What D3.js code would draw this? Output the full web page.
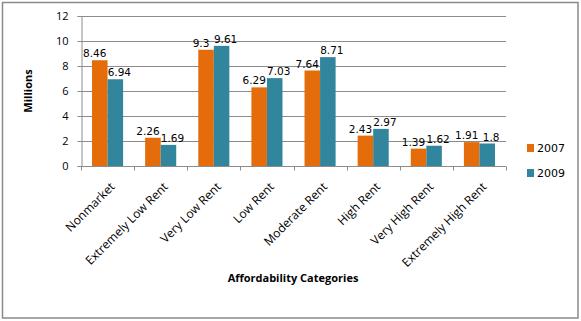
<!DOCTYPE html>
<html>
<head>
<meta charset="utf-8">
<script src="https://cdn.jsdelivr.net/npm/d3@7"></script>
<style>
  body { margin: 0; background: #fff; }
  svg text { font-family: "DejaVu Sans", Verdana, sans-serif; }
</style>
</head>
<body>
<div id="chart"></div>
<script>
const categories = ['Nonmarket', 'Extremely Low Rent', 'Very Low Rent', 'Low Rent',
  'Moderate Rent', 'High Rent', 'Very High Rent', 'Extremely High Rent'];
const years = ['2007', '2009'];
const values2007 = [8.46, 2.26, 9.3, 6.29, 7.64, 2.43, 1.39, 1.91];
const values2009 = [6.94, 1.69, 9.61, 7.03, 8.71, 2.97, 1.62, 1.8];
const yTicks = [0, 2, 4, 6, 8, 10, 12];
const colors = ['#E46C0A', '#31859C'];
const labelShift = [-5, 4];

const width = 581, height = 321;
const plotLeft = 81, plotRight = 506, plotTop = 16, plotBottom = 166;

const svg = d3.select('#chart').append('svg')
  .attr('width', width).attr('height', height);

// outer frame
svg.append('rect')
  .attr('x', 2.5).attr('y', 2.5).attr('width', 575.5).attr('height', 315.5)
  .attr('fill', '#fff').attr('stroke', '#8a8a8a').attr('stroke-width', 1.5);

const y = d3.scaleLinear().domain([0, 12]).range([plotBottom, plotTop]);
const x0 = d3.scaleBand().domain(categories).range([plotLeft, plotRight]);
const x1 = d3.scaleBand().domain(years).range([0, x0.bandwidth()]).paddingOuter(0.71);

// grid lines
svg.append('g').selectAll('line')
  .data(yTicks.filter(d => d > 0))
  .join('line')
  .attr('x1', plotLeft).attr('x2', plotRight)
  .attr('y1', d => Math.round(y(d)) + 0.5).attr('y2', d => Math.round(y(d)) + 0.5)
  .attr('stroke', '#8c8c8c');

// y axis
const yAxis = svg.append('g')
  .attr('transform', `translate(${plotLeft + 0.5},0)`)
  .call(d3.axisLeft(y).tickValues(yTicks).tickSize(4).tickPadding(9).tickFormat(d3.format('d')));
yAxis.select('.domain').attr('stroke', '#8c8c8c');
yAxis.selectAll('.tick line').attr('stroke', '#8c8c8c');
yAxis.selectAll('.tick text')
  .attr('font-size', 11).attr('fill', '#000')
  .style('font-family', '"Open Sans", sans-serif');

// x axis with category tick marks at band edges
const xAxisG = svg.append('g').attr('transform', `translate(0,${plotBottom + 0.5})`);
xAxisG.append('line').attr('x1', plotLeft).attr('x2', plotRight).attr('stroke', '#8c8c8c');
xAxisG.selectAll('line.tk')
  .data(d3.range(categories.length + 1))
  .join('line').attr('class', 'tk')
  .attr('x1', i => Math.round(plotLeft + i * x0.step()) + 0.5)
  .attr('x2', i => Math.round(plotLeft + i * x0.step()) + 0.5)
  .attr('y1', 0).attr('y2', 4)
  .attr('stroke', '#8c8c8c');

xAxisG.selectAll('text')
  .data(categories)
  .join('text')
  .attr('transform', d => `translate(${x0(d) + x0.bandwidth() / 2 + 2},15) rotate(-45)`)
  .attr('text-anchor', 'end')
  .attr('dy', '0.7em')
  .attr('font-size', 12)
  .style('font-family', '"Open Sans", sans-serif')
  .text(d => d);

// bars
const rows = categories.map((c, i) => ({ cat: c, vals: [values2007[i], values2009[i]] }));
const groups = svg.append('g').selectAll('g')
  .data(rows)
  .join('g')
  .attr('transform', d => `translate(${x0(d.cat)},0)`);

groups.selectAll('rect')
  .data(d => d.vals.map((v, j) => ({ year: years[j], v, j })))
  .join('rect')
  .attr('x', d => x1(d.year))
  .attr('width', x1.bandwidth())
  .attr('y', d => y(d.v))
  .attr('height', d => plotBottom - y(d.v))
  .attr('fill', d => colors[d.j]);

groups.selectAll('text')
  .data(d => d.vals.map((v, j) => ({ year: years[j], v, j })))
  .join('text')
  .attr('x', d => x1(d.year) + x1.bandwidth() / 2 + labelShift[d.j])
  .attr('y', d => y(d.v) - 3)
  .attr('text-anchor', 'middle')
  .attr('font-size', 10.5)
  .text(d => d.v);

// axis titles
svg.append('text')
  .attr('transform', `translate(32,${(plotTop + plotBottom) / 2}) rotate(-90)`)
  .attr('text-anchor', 'middle')
  .attr('font-size', 11).attr('font-weight', 'bold')
  .style('font-family', '"Open Sans", sans-serif')
  .text('Millions');

svg.append('text')
  .attr('x', 293).attr('y', 282)
  .attr('text-anchor', 'middle')
  .attr('font-size', 11).attr('font-weight', 'bold')
  .style('font-family', '"Open Sans", sans-serif')
  .text('Affordability Categories');

// legend
const legend = svg.append('g').selectAll('g')
  .data(years)
  .join('g')
  .attr('transform', (d, i) => `translate(527,${144 + i * 25})`);
legend.append('rect')
  .attr('width', 7).attr('height', 8)
  .attr('fill', (d, i) => colors[i]);
legend.append('text')
  .attr('x', 10).attr('y', 8)
  .attr('font-size', 11)
  .text(d => d);
</script>
</body>
</html>
